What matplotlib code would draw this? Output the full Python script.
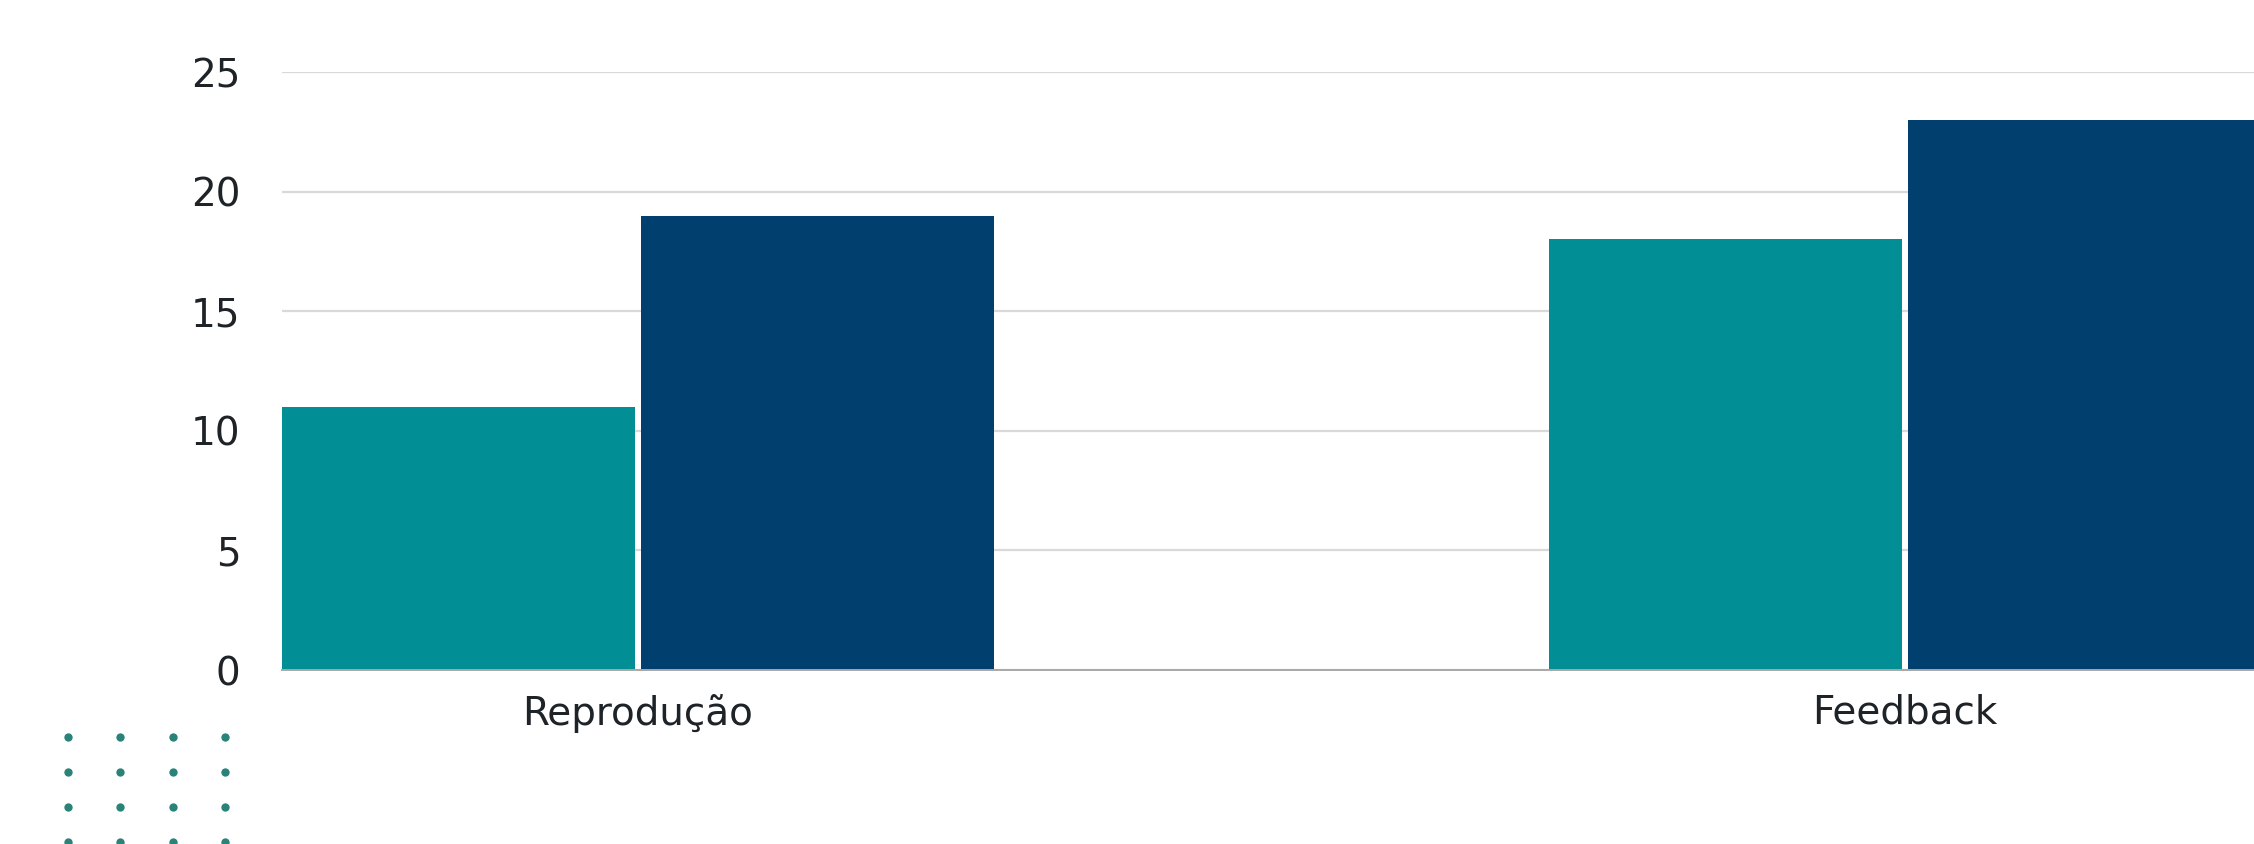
import numpy as np
import matplotlib
matplotlib.use("Agg")
import matplotlib.pyplot as plt

# Data
categories = ["Reprodução", "Feedback"]
serie_a = [11, 18]   # teal bars
serie_b = [19, 23]   # navy bars
yticks = [0, 5, 10, 15, 20, 25]

# Styling
teal = "#018f95"
navy = "#013f6e"
grid_color = "#d9d9d9"
text_color = "#1e2328"
dot_color = "#2a8378"

plt.rcParams["font.family"] = ["DejaVu Sans"]

W, H = 2254, 844
fig = plt.figure(figsize=(W / 100, H / 100), dpi=100)
fig.patch.set_facecolor("white")

left_px, right_px = 282, W
bottom_px, top_px = 670, 72
ax = fig.add_axes([left_px / W, (H - bottom_px) / H,
                   (right_px - left_px) / W, (bottom_px - top_px) / H])

x = np.arange(len(categories))
bar_w = 0.279
gap = 0.004
off = bar_w / 2 + gap / 2
ax.bar(x - off, serie_a, width=bar_w, color=teal, edgecolor="none", zorder=3)
ax.bar(x + off, serie_b, width=bar_w, color=navy, edgecolor="none", zorder=3)

ax.set_xlim(-(bar_w + gap / 2), -(bar_w + gap / 2) + (right_px - left_px) / 1267)
ax.set_ylim(0, 25)
ax.set_yticks(yticks)
ax.set_xticks(x)
ax.set_xticklabels(categories)

ax.yaxis.grid(True, color=grid_color, linewidth=1.6, zorder=0)
ax.set_axisbelow(True)
for s in ["top", "right", "left"]:
    ax.spines[s].set_visible(False)
ax.spines["bottom"].set_color("#a8a8a8")
ax.spines["bottom"].set_linewidth(1.4)
ax.spines["bottom"].set_zorder(4)

ax.tick_params(axis="y", length=0, pad=30, labelsize=28, labelcolor=text_color)
ax.tick_params(axis="x", length=0, pad=17, labelsize=28, labelcolor=text_color)

# decorative dot grid in the lower left corner
dot_cols = [0, 1, 2, 3]
dot_rows = [0, 1, 2, 3]
dax = fig.add_axes([42 / W, (H - 859.5) / H, 209 / W, 140 / H])
gx, gy = np.meshgrid(dot_cols, dot_rows)
dax.scatter(gx.ravel(), gy.ravel(), s=36, color=dot_color, linewidths=0)
dax.set_xlim(-0.5, 3.5)
dax.set_ylim(3.5, -0.5)
dax.axis("off")

fig.savefig("out.png", dpi=100, facecolor="white")
